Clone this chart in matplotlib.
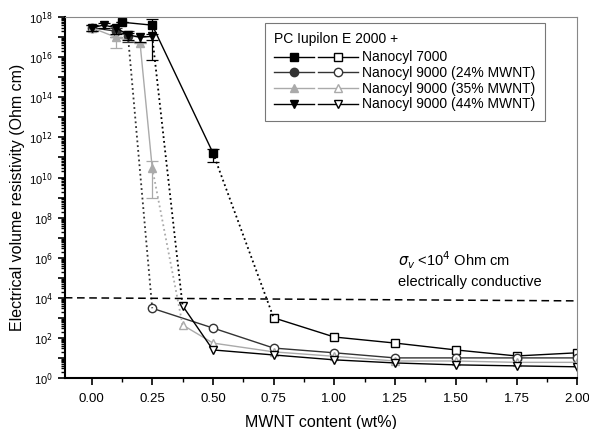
import matplotlib.pyplot as plt
from matplotlib.legend_handler import HandlerTuple
from matplotlib.ticker import LogLocator, FixedLocator, MultipleLocator, NullFormatter

plt.rcParams['font.family'] = ['Liberation Sans', 'DejaVu Sans']

# Nanocyl 7000 (squares)
n7_x_full = [0.125, 0.25, 0.5]
n7_y_full = [5.6e17, 4e17, 1.7e11]
n7_lo_full = [5.6e17, 7e15, 6e10]
n7_hi_full = [5.6e17, 8e17, 2.5e11]
n7_x_open = [0.75, 1.0, 1.25, 1.5, 1.75, 2.0]
n7_y_open = [1000, 110, 55, 25, 12.5, 18]

# Nanocyl 9000 24% (circles)
n24_x_full = [0.0, 0.1, 0.15]
n24_y_full = [3e17, 2e17, 1.2e17]
n24_lo_full = [2e17, 1e17, 6e16]
n24_hi_full = [4e17, 3e17, 2e17]
n24_x_open = [0.25, 0.5, 0.75, 1.0, 1.25, 1.5, 1.75, 2.0]
n24_y_open = [3000, 310, 31, 18, 10, 10, 10, 10]

# Nanocyl 9000 35% (triangles)
n35_x_full = [0.0, 0.1, 0.2, 0.25]
n35_y_full = [3e17, 1e17, 5e16, 3e10]
n35_lo_full = [2e17, 3e16, 5e16, 1e9]
n35_hi_full = [4e17, 1e17, 5e16, 7e10]
n35_x_open = [0.375, 0.5, 0.75, 1.0, 1.25, 1.5, 1.75, 2.0]
n35_y_open = [440, 55, 20, 12, 7, 7, 6, 6]

# Nanocyl 9000 44% (down triangles)
n44_x_full = [0.0, 0.05, 0.1, 0.15, 0.2, 0.25]
n44_y_full = [3e17, 4e17, 3e17, 1.3e17, 1e17, 1.1e17]
n44_lo_full = [2e17, 3e17, 1.5e17, 7e16, 6e16, 7e16]
n44_hi_full = [4e17, 5e17, 4e17, 1.6e17, 1.2e17, 1.4e17]
n44_x_open = [0.375, 0.5, 0.75, 1.0, 1.25, 1.5, 1.75, 2.0]
n44_y_open = [4000, 25, 14, 8, 5.6, 4.5, 4, 3.6]

# percolation threshold line
thr_x = [-0.11, 2.0]
thr_y = [1e4, 7e3]

fig = plt.figure(figsize=(5.89, 4.29), dpi=100)
ax = fig.add_axes([0.110, 0.119, 0.870, 0.841])

series = [
    ("Nanocyl 7000", 's', 'black', n7_x_full, n7_y_full, n7_lo_full, n7_hi_full, n7_x_open, n7_y_open),
    ("Nanocyl 9000 (24% MWNT)", 'o', '#333333', n24_x_full, n24_y_full, n24_lo_full, n24_hi_full, n24_x_open, n24_y_open),
    ("Nanocyl 9000 (35% MWNT)", '^', '#aaaaaa', n35_x_full, n35_y_full, n35_lo_full, n35_hi_full, n35_x_open, n35_y_open),
    ("Nanocyl 9000 (44% MWNT)", 'v', 'black', n44_x_full, n44_y_full, n44_lo_full, n44_hi_full, n44_x_open, n44_y_open),
]

handles = []
labels = []
for name, m, c, xf, yf, lo, hi, xo, yo in series:
    yerr = [[y - l for y, l in zip(yf, lo)], [h - y for y, h in zip(yf, hi)]]
    ax.errorbar(xf, yf, yerr=yerr, fmt='none', ecolor=c, elinewidth=0.9, capsize=4, capthick=0.9)
    hf, = ax.plot(xf, yf, marker=m, color=c, mfc=c, mec=c, ms=6, lw=1)
    ho, = ax.plot(xo, yo, marker=m, color=c, mfc='white', mec=c, ms=6, lw=1)
    ax.plot([xf[-1], xo[0]], [yf[-1], yo[0]], ls=':', color=c, lw=1.3)
    handles.append((hf, ho))
    labels.append(name)

ax.plot(thr_x, thr_y, ls='--', color='black', lw=1.1, dashes=(5, 3))
ax.text(1.26, 10**5.55, r'$\sigma_v$ <10$^4$ Ohm cm', fontsize=10.5)
ax.text(1.26, 10**4.6, 'electrically conductive', fontsize=10.5)

ax.set_yscale('log')
ax.set_ylim(1, 1e18)
ax.set_xlim(-0.11, 2.0)
ax.yaxis.set_major_locator(FixedLocator([10.0**k for k in range(0, 19)]))
ax.set_yticklabels([r'10$^{%d}$' % k if k % 2 == 0 else '' for k in range(0, 19)], fontsize=8)
ax.yaxis.set_minor_locator(LogLocator(base=10, subs=range(2, 10), numticks=100))
ax.yaxis.set_minor_formatter(NullFormatter())
ax.xaxis.set_minor_locator(MultipleLocator(0.125))
ax.set_xticks([0, 0.25, 0.5, 0.75, 1.0, 1.25, 1.5, 1.75, 2.0])
ax.set_xticklabels(['0.00', '0.25', '0.50', '0.75', '1.00', '1.25', '1.50', '1.75', '2.00'], fontsize=9.5)
ax.tick_params(which='major', length=5, width=1.2)
ax.tick_params(which='minor', length=3, width=1)
ax.tick_params(axis='x', pad=6)

for s in ['left', 'bottom']:
    ax.spines[s].set_linewidth(1.5)
for s in ['top', 'right']:
    ax.spines[s].set_color('#888888')

ax.set_xlabel('MWNT content (wt%)', fontsize=11.5, labelpad=7)
ax.set_ylabel('Electrical volume resistivity (Ohm cm)', fontsize=11.5, labelpad=3)

leg = ax.legend(handles, labels, handler_map={tuple: HandlerTuple(ndivide=None, pad=0.3)},
                title='PC Iupilon E 2000 +', title_fontsize=10, fontsize=10,
                loc='upper left', bbox_to_anchor=(0.39, 0.985), borderaxespad=0,
                handlelength=6.0, handletextpad=0.3, labelspacing=0.12,
                frameon=True, fancybox=False, edgecolor='#555555', alignment='left',
                borderpad=0.7, markerscale=1.0)
leg.get_frame().set_linewidth(0.8)
leg._legend_box.sep = 3

plt.savefig('out.png', dpi=100)
